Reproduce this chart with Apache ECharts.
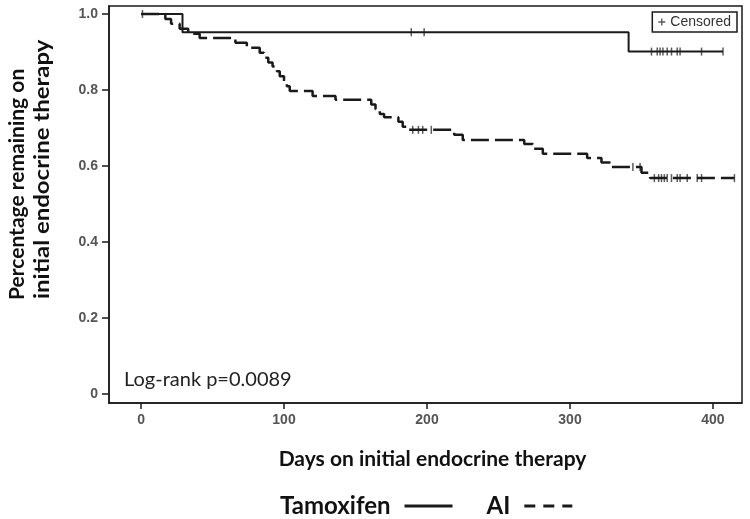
<!DOCTYPE html>
<html>
<head>
<meta charset="utf-8">
<script src="https://cdn.jsdelivr.net/npm/echarts@6/dist/echarts.min.js"></script>
<style>html,body{margin:0;padding:0;background:#fff;}#c{width:750px;height:519px;}</style>
</head>
<body>
<div id="c"></div>
<script>
// ---- data ----
var xTicks = [0, 100, 200, 300, 400];
var yTicks = [0, 0.2, 0.4, 0.6, 0.8, 1.0];

// Tamoxifen: step curve (day, survival after event)
var tamDays = [0, 29, 341, 407];
var tamSurv = [1.0, 0.952, 0.901, 0.901];
// Tamoxifen censored observations
var tamCensDays = [1, 189, 198, 357, 361, 363, 365, 368, 371, 375, 377, 392, 407];
var tamCensSurv = [1.0, 0.952, 0.952, 0.901, 0.901, 0.901, 0.901, 0.901, 0.901, 0.901, 0.901, 0.901, 0.901];

// AI: step curve
var aiDays = [0, 17, 21, 27, 33, 41, 66, 74, 83, 86, 89, 92, 95, 97, 100, 102, 104, 120, 136, 161, 164, 167, 170, 180, 183, 186, 219, 225, 268, 274, 281, 312, 322, 329, 350, 356, 415];
var aiSurv = [1.0, 0.987, 0.974, 0.961, 0.948, 0.937, 0.924, 0.911, 0.898, 0.885, 0.872, 0.862, 0.849, 0.836, 0.823, 0.810, 0.797, 0.784, 0.774, 0.762, 0.749, 0.737, 0.728, 0.716, 0.703, 0.695, 0.682, 0.668, 0.658, 0.645, 0.632, 0.621, 0.609, 0.597, 0.582, 0.568, 0.568];
// AI censored observations
var aiCensDays = [190, 194, 197, 203, 344, 349, 359, 362, 364, 366, 368, 371, 375, 377, 382, 389, 392, 415];
var aiCensSurv = [0.695, 0.695, 0.695, 0.695, 0.597, 0.597, 0.568, 0.568, 0.568, 0.568, 0.568, 0.568, 0.568, 0.568, 0.568, 0.568, 0.568, 0.568];

function pairs(a, b) { return a.map(function (v, i) { return [v, b[i]]; }); }

var chart = echarts.init(document.getElementById('c'), null, { renderer: 'canvas' });
var ink = '#1a1a1a';
var tickFont = { fontFamily: 'Liberation Sans', fontSize: 14, fontWeight: 'bold', color: '#555' };

chart.setOption({
  animation: false,
  backgroundColor: '#fff',
  grid: { left: 109, right: 8, top: 6, bottom: 116, show: true, borderColor: ink, borderWidth: 1.5, containLabel: false },
  xAxis: {
    type: 'value', min: -22.4, max: 420.3,
    axisLine: { show: true, onZero: false, lineStyle: { color: ink, width: 1.5 } },
    axisTick: { show: true, length: 6, lineStyle: { color: ink, width: 1.5 }, customValues: xTicks },
    axisLabel: Object.assign({ margin: 10, customValues: xTicks }, tickFont),
    splitLine: { show: false },
    name: 'Days on initial endocrine therapy', nameLocation: 'middle', nameGap: 46,
    nameTextStyle: { fontFamily: 'Lato', fontWeight: 'bold', fontSize: 21, color: '#111', padding: [0, 0, 0, 14] }
  },
  yAxis: {
    type: 'value', min: -0.024, max: 1.021,
    axisLine: { show: true, onZero: false, lineStyle: { color: ink, width: 1.5 } },
    axisTick: { show: true, length: 7, lineStyle: { color: ink, width: 1.5 }, customValues: yTicks },
    axisLabel: Object.assign({ margin: 11, customValues: yTicks, formatter: function (v) { return v === 0 ? '0' : v.toFixed(1); } }, tickFont),
    splitLine: { show: false }
  },
  legend: [
    {
      data: [
        { name: 'Tamoxifen', icon: 'path://M0,0h48v3h-48z' },
        { name: 'AI', icon: 'path://M0,0h11v3h-11z M19,0h11v3h-11z M38,0h10v3h-10z' }
      ],
      selectedMode: false, align: 'right', orient: 'horizontal',
      left: 275, top: 489, itemWidth: 48, itemHeight: 3, itemGap: 34,
      itemStyle: { color: ink },
      textStyle: { fontFamily: 'Lato', fontWeight: 'bold', fontSize: 24, color: '#111', padding: [0, 9, 0, 0] }
    },
    {
      data: [{ name: 'Censored', icon: 'path://M4,0h2v4h4v2h-4v4h-2v-4h-4v-2h4z' }],
      selectedMode: false, right: 13, top: 12,
      borderColor: ink, borderWidth: 1.5, padding: [3, 6],
      itemWidth: 7, itemHeight: 7,
      textStyle: { fontFamily: 'Liberation Sans', fontSize: 14, color: '#333' }
    }
  ],
  graphic: [
    { type: 'text', x: 17, y: 300, rotation: Math.PI / 2,
      style: { text: 'Percentage remaining on', fontFamily: 'Lato', fontWeight: 'bold', fontSize: 21, fill: '#111', align: 'left', verticalAlign: 'middle' } },
    { type: 'text', x: 42, y: 299, rotation: Math.PI / 2, scaleX: 1.14,
      style: { text: 'initial endocrine therapy', fontFamily: 'Lato', fontWeight: 'bold', fontSize: 21, fill: '#111', align: 'left', verticalAlign: 'middle' } },
    { type: 'text', x: 124, y: 380,
      style: { text: 'Log-rank p=0.0089', fontFamily: 'Lato', fontSize: 20, fill: '#222', align: 'left', verticalAlign: 'middle' } }
  ],
  series: [
    { name: 'Tamoxifen', type: 'line', step: 'end', data: pairs(tamDays, tamSurv), symbol: 'none',
      lineStyle: { color: ink, width: 2 }, itemStyle: { color: ink } },
    { name: 'AI', type: 'line', step: 'end', data: pairs(aiDays, aiSurv), symbol: 'none',
      lineStyle: { color: ink, width: 2.5, type: [18, 6] }, itemStyle: { color: ink } },
    { name: 'Censored', type: 'scatter', data: pairs(tamCensDays, tamCensSurv), symbol: 'rect', symbolSize: [1.5, 8],
      itemStyle: { color: '#333' } },
    { name: 'Censored', type: 'scatter', data: pairs(aiCensDays, aiCensSurv), symbol: 'rect', symbolSize: [1.5, 8],
      itemStyle: { color: '#333' } }
  ]
});
</script>
</body>
</html>
